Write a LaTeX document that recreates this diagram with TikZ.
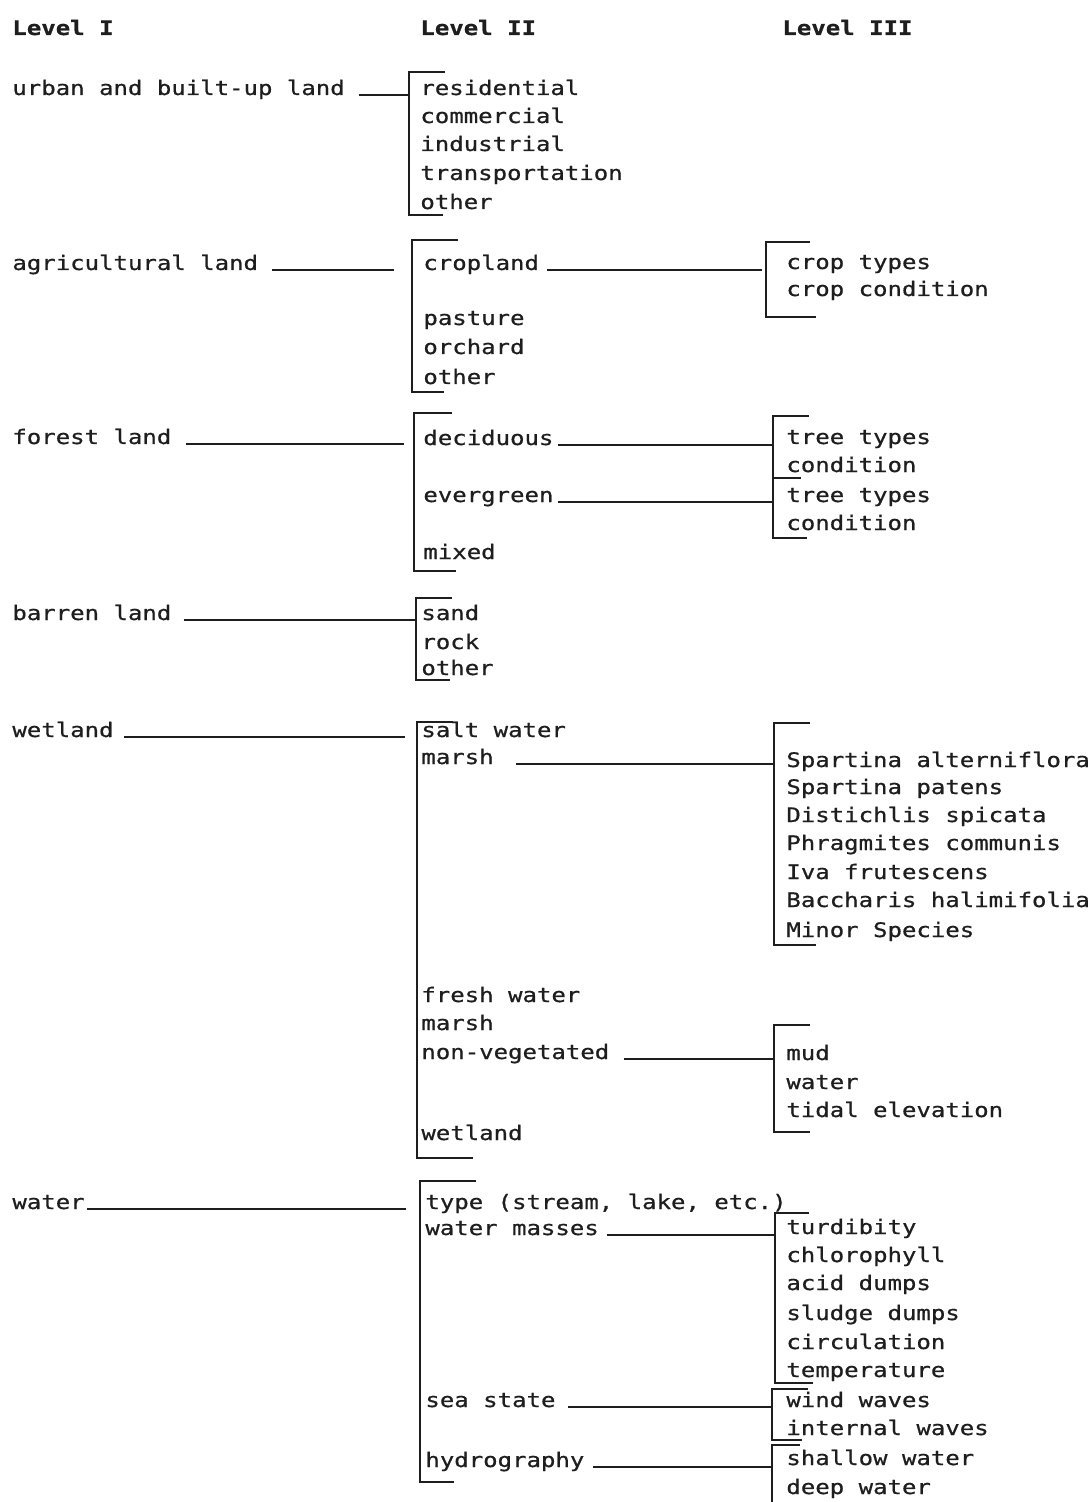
\documentclass[tikz,border=0pt]{standalone}
\usepackage{fontspec}
\newfontfamily\tw[FakeStretch=1.2,FakeBold=0.7]{DejaVu Sans Mono}
\definecolor{ink}{HTML}{1E1E1E}
\begin{document}
\begin{tikzpicture}[x=0.5pt,y=-0.5pt,
  lab/.style={font=\tw\fontsize{10pt}{12pt}\selectfont, inner sep=0pt, anchor=base west, text=ink},
  hdr/.style={lab, font=\tw\bfseries\fontsize{10pt}{12pt}\selectfont},
  ln/.style={draw=ink, line width=1.3pt}]
\useasboundingbox[fill=white] (0,0) rectangle (1091,1502);

% headers
\node[hdr] (h1) at (12,35) {Level I};
\node[hdr] (h2) at (420,35) {Level II};
\node[hdr] (h3) at (782,35) {Level III};

% Level I
\node[lab] (urban) at (12,95) {urban and built-up land};
\node[lab] (agri) at (12,270) {agricultural land};
\node[lab] (forest) at (12,444) {forest land};
\node[lab] (barren) at (12,620) {barren land};
\node[lab] (wet) at (12,737) {wetland};
\node[lab] (water) at (12,1209) {water};

% Level II brackets
\coordinate (B1t) at (409,72);  \coordinate (B1b) at (409,215);
\coordinate (B2t) at (412,240); \coordinate (B2b) at (412,392);
\coordinate (B3t) at (414,413); \coordinate (B3b) at (414,571);
\coordinate (B4t) at (416,598); \coordinate (B4b) at (416,680);
\coordinate (B5t) at (417,722); \coordinate (B5b) at (417,1158);
\coordinate (B6t) at (420,1181);\coordinate (B6b) at (420,1482);
\draw[ln] ([xshift=18pt]B1t) -- (B1t) -- (B1b) -- ([xshift=17pt]B1b);
\draw[ln] ([xshift=23pt]B2t) -- (B2t) -- (B2b) -- ([xshift=16pt]B2b);
\draw[ln] ([xshift=19pt]B3t) -- (B3t) -- (B3b) -- ([xshift=21pt]B3b);
\draw[ln] ([xshift=18pt]B4t) -- (B4t) -- (B4b) -- ([xshift=17pt]B4b);
\draw[ln] ([xshift=18pt]B5t) -- (B5t) -- (B5b) -- ([xshift=28pt]B5b);
\draw[ln] ([xshift=28pt]B6t) -- (B6t) -- (B6b) -- ([xshift=17pt]B6b);

% Level I connectors
\draw[ln] ([xshift=7pt]urban.base east) -- (urban.base east -| B1t);
\draw[ln] ([xshift=7pt]agri.base east) -- ([xshift=-9pt]agri.base east -| B2t);
\draw[ln] ([xshift=7pt]forest.base east) -- ([xshift=-5pt]forest.base east -| B3t);
\draw[ln] ([xshift=6pt]barren.base east) -- (barren.base east -| B4t);
\draw[ln] ([xshift=5pt]wet.base east) -- ([xshift=-6pt]wet.base east -| B5t);
\draw[ln] ([xshift=1pt]water.base east) -- ([xshift=-7pt]water.base east -| B6t);

% Level II items
\node[lab] (res) at (420,95) {residential};
\node[lab] (com) at (420,123) {commercial};
\node[lab] (ind) at (420,151) {industrial};
\node[lab] (tra) at (420,180) {transportation};
\node[lab] (oth1) at (420,209) {other};

\node[lab] (crop) at (423,270) {cropland};
\node[lab] (past) at (423,325) {pasture};
\node[lab] (orch) at (423,354) {orchard};
\node[lab] (oth2) at (423,384) {other};

\node[lab] (dec) at (423,445) {deciduous};
\node[lab] (ever) at (423,502) {evergreen};
\node[lab] (mix) at (423,559) {mixed};

\node[lab] (sand) at (421,620) {sand};
\node[lab] (rock) at (421,649) {rock};
\node[lab] (oth4) at (421,675) {other};

\node[lab] (salt) at (421,737) {salt water};
\node[lab] (marsh) at (421,764) {marsh};
\node[lab] (fresh) at (421,1002) {fresh water};
\node[lab] (marsh2) at (421,1030) {marsh};
\node[lab] (nonveg) at (421,1059) {non-vegetated};
\node[lab] (wet2) at (421,1140) {wetland};

\node[lab] (type) at (425,1209) {type (stream, lake, etc.)};
\node[lab] (wm) at (425,1235) {water masses};
\node[lab] (sea) at (425,1407) {sea state};
\node[lab] (hydro) at (425,1467) {hydrography};

% Level III brackets
\coordinate (C1t) at (766,242); \coordinate (C1b) at (766,317);
\draw[ln] ([xshift=22pt]C1t) -- (C1t) -- (C1b) -- ([xshift=25pt]C1b);
\coordinate (C2t) at (773,416); \coordinate (C2m) at (773,478); \coordinate (C2b) at (773,538);
\draw[ln] ([xshift=18pt]C2t) -- (C2t) -- (C2b) -- ([xshift=17pt]C2b);
\draw[ln] (C2m) -- ([xshift=14pt]C2m);
\coordinate (C3t) at (774,723); \coordinate (C3b) at (774,945);
\draw[ln] ([xshift=18pt]C3t) -- (C3t) -- (C3b) -- ([xshift=21pt]C3b);
\coordinate (C4t) at (774,1025); \coordinate (C4b) at (774,1132);
\draw[ln] ([xshift=18pt]C4t) -- (C4t) -- (C4b) -- ([xshift=18pt]C4b);
\coordinate (C5t) at (775,1213); \coordinate (C5b) at (775,1383);
\draw[ln] ([xshift=17pt]C5t) -- (C5t) -- (C5b) -- ([xshift=19pt]C5b);
\coordinate (C6t) at (772,1389); \coordinate (C6b) at (772,1440);
\draw[ln] ([xshift=18pt]C6t) -- (C6t) -- (C6b) -- ([xshift=15pt]C6b);
\coordinate (C7t) at (772,1445); \coordinate (C7b) at (772,1502);
\draw[ln] ([xshift=14pt]C7t) -- (C7t) -- (C7b);

% Level II -> III connectors
\draw[ln] ([xshift=4pt]crop.base east) -- ([xshift=-2pt]crop.base east -| C1t);
\draw[ln] ([xshift=2pt]dec.base east) -- (dec.base east -| C2t);
\draw[ln] ([xshift=2pt]ever.base east) -- (ever.base east -| C2t);
\draw[ln] ([xshift=11pt]marsh.base east) -- (marsh.base east -| C3t);
\draw[ln] ([xshift=7pt]nonveg.base east) -- (nonveg.base east -| C4t);
\draw[ln] ([xshift=4pt]wm.base east) -- (wm.base east -| C5t);
\draw[ln] ([xshift=6pt]sea.base east) -- (sea.base east -| C6t);
\draw[ln] ([xshift=4pt]hydro.base east) -- (hydro.base east -| C7t);

% Level III items
\node[lab] (ct) at (786,269) {crop types};
\node[lab] (cc) at (786,296) {crop condition};

\node[lab] (tt1) at (786,444) {tree types};
\node[lab] (co1) at (786,472) {condition};
\node[lab] (tt2) at (786,502) {tree types};
\node[lab] (co2) at (786,530) {condition};

\node[lab] (sp1) at (786,767) {Spartina alterniflora};
\node[lab] (sp2) at (786,794) {Spartina patens};
\node[lab] (sp3) at (786,822) {Distichlis spicata};
\node[lab] (sp4) at (786,850) {Phragmites communis};
\node[lab] (sp5) at (786,879) {Iva frutescens};
\node[lab] (sp6) at (786,907) {Baccharis halimifolia};
\node[lab] (sp7) at (786,937) {Minor Species};

\node[lab] (mud) at (786,1060) {mud};
\node[lab] (wat) at (786,1089) {water};
\node[lab] (tid) at (786,1117) {tidal elevation};

\node[lab] (tur) at (786,1234) {turdibity};
\node[lab] (chl) at (786,1262) {chlorophyll};
\node[lab] (acid) at (786,1290) {acid dumps};
\node[lab] (slu) at (786,1320) {sludge dumps};
\node[lab] (cir) at (786,1349) {circulation};
\node[lab] (tem) at (786,1377) {temperature};
\node[lab] (ww) at (786,1407) {wind waves};
\node[lab] (iw) at (786,1435) {internal waves};
\node[lab] (sw) at (786,1465) {shallow water};
\node[lab] (dw) at (786,1494) {deep water};
\end{tikzpicture}
\end{document}
